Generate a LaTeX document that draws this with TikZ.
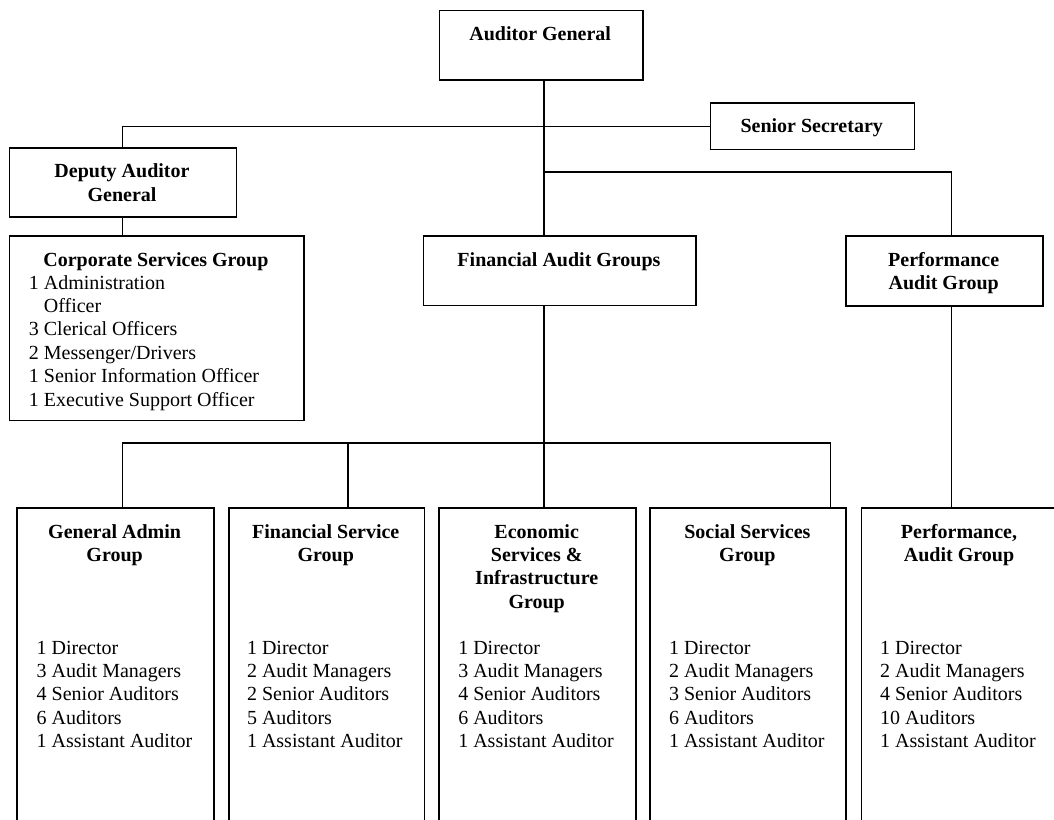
\documentclass[tikz,border=0pt]{standalone}
\usepackage{fontspec}
\setmainfont{Liberation Serif}
\begin{document}
\begin{tikzpicture}[x=1pt,y=-1pt,
  box/.style={draw, line width=1.6pt, rectangle, inner sep=0pt, anchor=north west},
  title/.style={font=\fontsize{20pt}{23.4pt}\selectfont\bfseries, align=center, anchor=north, inner sep=0pt},
  list/.style={font=\fontsize{20pt}{23.4pt}\selectfont, align=left, anchor=north west, inner sep=0pt},
  link/.style={line width=1.6pt}]
\path[use as bounding box, clip] (0,0) rectangle (1054,819);

% boxes
\node[box, minimum width=203.5pt, minimum height=69.5pt] (ag)  at (438.5,9.5) {};
\node[box, minimum width=204pt,   minimum height=46.6pt] (sec) at (709.7,102.2) {};
\node[box, minimum width=227pt,   minimum height=69.4pt] (dag) at (8.5,147) {};
\node[box, minimum width=294.8pt, minimum height=184.3pt] (csg) at (8.5,235.2) {};
\node[box, minimum width=272.8pt, minimum height=69.6pt] (fag) at (422.6,235.2) {};
\node[box, minimum width=196.8pt, minimum height=70pt]   (pag) at (845.3,235.3) {};

\node[box, minimum width=196.8pt, minimum height=400pt] (ga) at (16.2,507.2) {};
\node[box, minimum width=195.7pt, minimum height=400pt] (fs) at (227.9,507.2) {};
\node[box, minimum width=196.6pt, minimum height=400pt] (es) at (438.4,507.2) {};
\node[box, minimum width=195.9pt, minimum height=400pt] (ss) at (649.4,507.2) {};
\node[box, minimum width=196.6pt, minimum height=400pt] (pa) at (860.6,507.2) {};

% junction coordinates
\coordinate (spine) at (544,172);
\coordinate (dl) at (122.4,125.5);
\coordinate (pj) at (951.5,172);
\coordinate (busL) at (122.4,443);
\coordinate (bus2) at (348.2,443);
\coordinate (busM) at (544,443);
\coordinate (busR) at (830.6,443);

% connectors
\draw[link] (ag.south -| spine) -- (fag.north -| spine);
\draw[link] (sec.west) -- (sec.west -| dl) -- (dag.north -| dl);
\draw[link] (dag.south -| dl) -- (csg.north -| dl);
\draw[link] (spine) -- (pj) -- (pag.north -| pj);
\draw[link] (fag.south -| spine) -- (busM);
\draw[link] (busL) -- (busR);
\draw[link] (busL) -- (ga.north -| busL);
\draw[link] (bus2) -- (fs.north -| bus2);
\draw[link] (busM) -- (es.north -| busM);
\draw[link] (busR) -- (ss.north -| busR);
\draw[link] (pag.south -| pj) -- (pa.north -| pj);

% texts
\node[title] (agT)  at (540.2,26.3) {Auditor General};
\node[title] (secT) at (811.7,118.6) {Senior Secretary};
\node[title] (dagT) at (122,163.9) {Deputy Auditor\\General};
\node[title] (csgT) at (155.9,252) {Corporate Services Group};
\node[list]  (csgL) at (28.7,275.1) {1 Administration\\\hspace*{15pt}Officer\\3 Clerical Officers\\2 Messenger/Drivers\\1 Senior Information Officer\\1 Executive Support Officer};
\node[title] (fagT) at (559,252) {Financial Audit Groups};
\node[title] (pagT) at (943.7,252) {Performance\\Audit Group};

\node[title] (gaT) at (114.6,524) {General Admin\\Group};
\node[title] (fsT) at (325.75,524) {Financial Service\\Group};
\node[title] (esT) at (536.7,524) {Economic\\Services \&\\Infrastructure\\Group};
\node[title] (ssT) at (747.35,524) {Social Services\\Group};
\node[title] (paT) at (959,524) {Performance,\\Audit Group};

\node[list] (gaL) at (36.5,640.7) {1 Director\\3 Audit Managers\\4 Senior Auditors\\6 Auditors\\1 Assistant Auditor};
\node[list] (fsL) at (246.8,640.7) {1 Director\\2 Audit Managers\\2 Senior Auditors\\5 Auditors\\1 Assistant Auditor};
\node[list] (esL) at (458.1,640.7) {1 Director\\3 Audit Managers\\4 Senior Auditors\\6 Auditors\\1 Assistant Auditor};
\node[list] (ssL) at (668.8,640.7) {1 Director\\2 Audit Managers\\3 Senior Auditors\\6 Auditors\\1 Assistant Auditor};
\node[list] (paL) at (880,640.7) {1 Director\\2 Audit Managers\\4 Senior Auditors\\10 Auditors\\1 Assistant Auditor};
\end{tikzpicture}
\end{document}
